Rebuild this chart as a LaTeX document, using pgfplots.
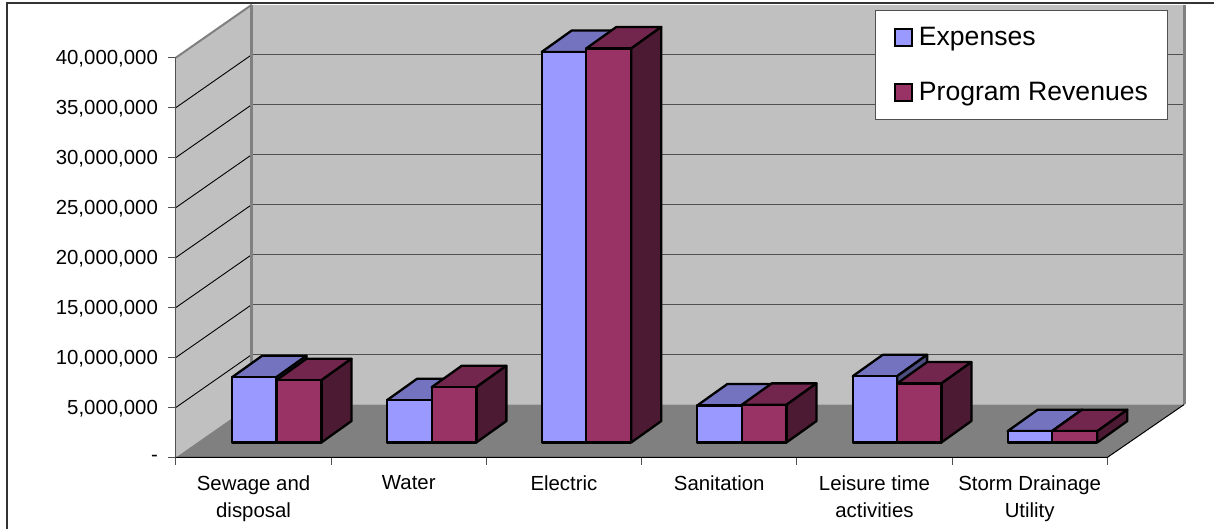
\documentclass[border=0pt]{standalone}
\usepackage{fontspec}
\setmainfont{Liberation Sans}
\usepackage{pgfplots}
\pgfplotsset{compat=1.18}
\definecolor{wall}{HTML}{C0C0C0}
\definecolor{floorc}{HTML}{808080}
\definecolor{expF}{HTML}{9999FF}
\definecolor{expT}{HTML}{7373BF}
\definecolor{expS}{HTML}{4D4D80}
\definecolor{revF}{HTML}{993366}
\definecolor{revT}{HTML}{73264D}
\definecolor{revS}{HTML}{4D1A33}
\definecolor{gridc}{HTML}{505050}
% left x, right x, value, front, top, side
\newcommand{\threedbar}[6]{%
  \pgfmathsetmacro\xr{#2}%
  \pgfmathsetmacro\xlb{#1+30}%
  \pgfmathsetmacro\xrb{#2+30}%
  \edef\ybase{1500000}%
  \edef\ytop{\the\numexpr#3+1500000\relax}%
  \edef\ytopb{\the\numexpr#3+1500000+2140000\relax}%
  \edef\ybaseb{\the\numexpr1500000+2140000\relax}%
  \addplot[forget plot,no markers,draw=black,line width=2.3pt,line join=round,fill=#5] coordinates {(#1,\ytop) (\xlb,\ytopb) (\xrb,\ytopb) (\xr,\ytop)} -- cycle;
  \addplot[forget plot,no markers,draw=black,line width=2.3pt,line join=round,fill=#6] coordinates {(\xr,\ybase) (\xrb,\ybaseb) (\xrb,\ytopb) (\xr,\ytop)} -- cycle;
  \addplot[forget plot,no markers,draw=black,line width=2.3pt,line join=round,fill=#4] coordinates {(#1,\ybase) (#1,\ytop) (\xr,\ytop) (\xr,\ybase)} -- cycle;
}
\begin{document}
\begin{tikzpicture}
\begin{axis}[
  scale only axis, width=932pt, height=400pt,
  xmin=176, xmax=1108, ymin=0, ymax=40000000,
  clip=false,
  axis x line=bottom, axis y line=left,
  axis line style={draw=none},
  tick align=outside,
  major tick length=7.5pt, minor tick length=7.5pt,
  ytick={0,5000000,10000000,15000000,20000000,25000000,30000000,35000000,40000000},
  yticklabels={-,{5,000,000},{10,000,000},{15,000,000},{20,000,000},{25,000,000},{30,000,000},{35,000,000},{40,000,000}},
  xtick={253.7,409,564.3,719.7,875,1030.3},
  xticklabels={{Sewage and\\disposal},{Water},{Electric},{Sanitation},{Leisure time\\activities},{Storm Drainage\\Utility}},
  minor xtick={176,331.3,486.7,642,797.3,952.7,1108},
  major x tick style={draw=none},
  minor x tick style={draw=gridc,line width=1pt},
  y tick style={draw=gridc,line width=1pt},
  scaled y ticks=false,
  yticklabel style={font=\fontsize{20.4}{24}\selectfont,xshift=-7pt,yshift=-1pt},
  xticklabel style={font=\fontsize{20.4}{27}\selectfont,align=center,anchor=north,yshift=-7pt},
  legend style={at={(axis cs:876,44770000)},anchor=north west,draw=gridc,fill=white,line width=1pt,
    font=\fontsize{26.6}{30}\selectfont,inner xsep=18pt,inner ysep=15pt,row sep=31pt},
  legend cell align=left,
  legend image code/.code={\path (21pt,0pt); \draw[#1] (0pt,-8.5pt) rectangle (17pt,8.5pt);},
]
% frame and page extent
\path (axis cs:0,-7130000) rectangle (axis cs:1215,45770000);
\draw[black!80,line width=1.5pt] (axis cs:7,-7130000) -- (axis cs:7,45470000) -- (axis cs:1215,45470000);
% walls and floor
\addplot[forget plot,no markers,draw=none,fill=wall] coordinates {(176,0) (176,40000000) (252,45300000) (252,5300000)} -- cycle;
\addplot[forget plot,no markers,draw=none,fill=wall] coordinates {(252,5300000) (252,45300000) (1185,45300000) (1185,5300000)} -- cycle;
\addplot[forget plot,no markers,draw=none,fill=floorc] coordinates {(176,0) (252,5300000) (1185,5300000) (1108,0)} -- cycle;
% gridlines: side wall and back wall
\pgfplotsinvokeforeach{5000000,10000000,15000000,20000000,25000000,30000000,35000000}{
  \addplot[forget plot,no markers,draw=black,line width=0.9pt] coordinates {(176,#1) (252,\the\numexpr#1+5300000\relax)};
  \addplot[forget plot,no markers,draw=gridc,line width=1.2pt] coordinates {(252,\the\numexpr#1+5300000\relax) (1185,\the\numexpr#1+5300000\relax)};
}
% wall borders
\addplot[forget plot,no markers,draw=floorc,line width=2pt] coordinates {(176,40000000) (252,45300000)};
\addplot[forget plot,no markers,draw=floorc,line width=3pt] coordinates {(252,45300000) (252,5300000)};
\addplot[forget plot,no markers,draw=floorc,line width=3pt] coordinates {(1185,45300000) (1185,5300000)};
\addplot[forget plot,no markers,draw=gridc,line width=1.2pt] coordinates {(176,0) (176,40000000)};
\addplot[forget plot,no markers,draw=black,line width=1pt] coordinates {(176,0) (1108,0) (1185,5300000)};
% bars
\threedbar{232.3}{276.7}{6530000}{expF}{expT}{expS}
\threedbar{276.7}{321.7}{6230000}{revF}{revT}{revS}
\threedbar{387.3}{432}{4230000}{expF}{expT}{expS}
\threedbar{432}{476.7}{5530000}{revF}{revT}{revS}
\threedbar{542}{586.7}{39070000}{expF}{expT}{expS}
\threedbar{586.7}{631.7}{39430000}{revF}{revT}{revS}
\threedbar{697.7}{742.3}{3700000}{expF}{expT}{expS}
\threedbar{742.3}{787}{3770000}{revF}{revT}{revS}
\threedbar{853.3}{897.7}{6630000}{expF}{expT}{expS}
\threedbar{897.7}{942}{5900000}{revF}{revT}{revS}
\threedbar{1008.3}{1052.7}{1130000}{expF}{expT}{expS}
\threedbar{1052.7}{1098}{1130000}{revF}{revT}{revS}
\addlegendimage{draw=black,line width=2pt,fill=expF}
\addlegendentry{Expenses}
\addlegendimage{draw=black,line width=2pt,fill=revF}
\addlegendentry{Program Revenues}
\end{axis}
\end{tikzpicture}
\end{document}
